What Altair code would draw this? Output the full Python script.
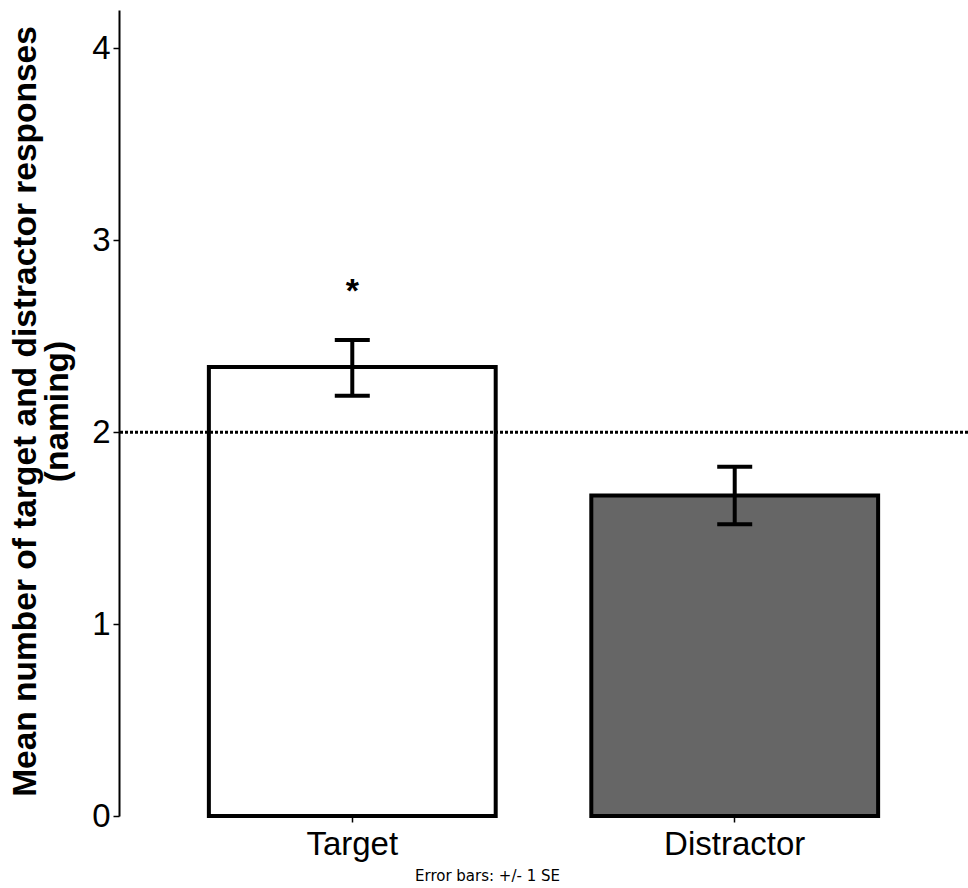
import altair as alt
import pandas as pd

conditions = ["Target", "Distractor"]
means = [2.34, 1.67]
se_low = [2.19, 1.52]
se_high = [2.48, 1.82]
fills = ["#ffffff", "#666666"]
sig_marks = ["*", ""]
sig_y = [2.75, 2.75]
chance_level = [2.0]

df = pd.DataFrame({
    "cond": conditions, "mean": means, "lo": se_low, "hi": se_high,
    "fill": fills, "sig": sig_marks, "sig_y": sig_y,
})
ref = pd.DataFrame({"y": chance_level})

W, H = 849, 806

x = alt.X("cond:N", sort=conditions,
          scale=alt.Scale(paddingInner=0.25, paddingOuter=0.235),
          axis=alt.Axis(title=None, domain=False, labelAngle=0, tickSize=6,
                        tickColor="black", tickWidth=1.5, labelFont="Liberation Sans",
                        labelFontSize=33, labelColor="black", labelPadding=6))
y_scale = alt.Scale(domain=[0, 4.2], nice=False)

bars = alt.Chart(df).mark_bar(stroke="black", strokeWidth=4).encode(
    x=x,
    y=alt.Y("mean:Q", scale=y_scale,
            axis=alt.Axis(values=[0, 1, 2, 3, 4], format="d", grid=False,
                          domainColor="black", domainWidth=2, tickColor="black",
                          tickWidth=1.5, tickSize=6, labelFont="Liberation Sans",
                          labelFontSize=33, labelColor="black", labelPadding=3,
                          title=["Mean number of target and distractor responses", "(naming)"],
                          titleFont="Liberation Sans", titleFontSize=33.5,
                          titleFontWeight="bold", titleColor="black",
                          titleX=-77, titleY=H / 2 - 2, titleLineHeight=32)),
    fill=alt.Fill("fill:N", scale=None),
)

xs = alt.X("cond:N", sort=conditions)
err = alt.Chart(df).mark_rule(color="black", strokeWidth=4, opacity=1).encode(
    x=xs, y="lo:Q", y2="hi:Q")
cap_lo = alt.Chart(df).mark_tick(color="black", thickness=4, size=35, opacity=1,
                                 orient="horizontal").encode(x=xs, y="lo:Q")
cap_hi = alt.Chart(df).mark_tick(color="black", thickness=4, size=35, opacity=1,
                                 orient="horizontal").encode(x=xs, y="hi:Q")
stars = alt.Chart(df).mark_text(fontSize=34, fontWeight="bold", font="Liberation Sans",
                                color="black", baseline="middle", dy=4).encode(
    x=xs, y="sig_y:Q", text="sig:N")
chance = alt.Chart(ref).mark_rule(color="black", strokeWidth=3, strokeDash=[3, 2]).encode(
    y="y:Q")

chart = alt.layer(bars, chance, err, cap_lo, cap_hi, stars).properties(
    width=W, height=H,
    autosize=alt.AutoSizeParams(type="none"),
    padding={"left": 119, "top": 10, "right": 0, "bottom": 72},
    view=alt.ViewBackground(strokeOpacity=0, strokeWidth=0),
    title=alt.TitleParams("Error bars: +/- 1 SE", orient="bottom", anchor="middle",
                          fontSize=15, fontWeight="normal", font="DejaVu Sans",
                          color="black", offset=8, dx=-56),
).configure_view(
    strokeOpacity=0, strokeWidth=0
).configure_axis(
    grid=False
).configure_axisX(
    domain=False
).configure(background="white")

chart.save("out.html", embed_options={"renderer": "svg", "actions": False})
